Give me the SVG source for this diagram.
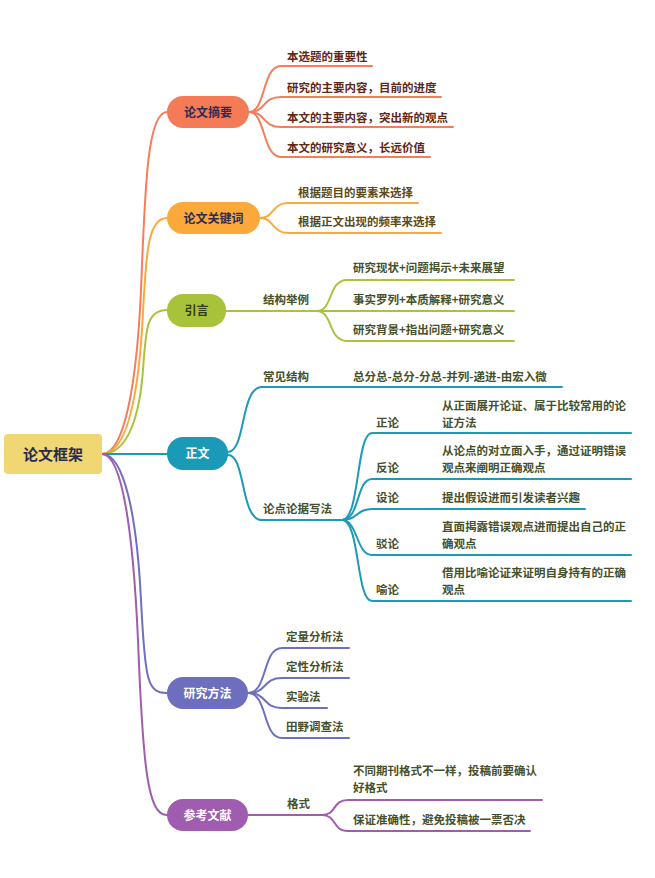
<svg xmlns="http://www.w3.org/2000/svg" width="655" height="878" viewBox="0 0 655 878">
<style>
text{font-family:"Noto Sans CJK SC","Noto Sans",sans-serif;font-weight:bold;font-size:11.5px}
.c{fill:none;stroke-width:2;stroke-linecap:round}
.t1{fill:#5e2716}
.t2{fill:#5c4a18}
.t3{fill:#46502a}
.pt{text-anchor:middle;font-size:12px}
.dark{fill:#2e2b55}
.white{fill:#ffffff}
.o{stroke:#F47E5B}.y{stroke:#F9A93E}.g{stroke:#A9C33C}.b{stroke:#1C9AB6}.p{stroke:#6E70BE}.m{stroke:#A05DAE}
</style>
<rect width="655" height="878" fill="#ffffff"/>
<g id="connectors">
<path class="c o" d="M102,454 C125,454 137,380 141,290 C145,190 147,112 167,112"/>
<path class="c y" d="M102,454 C128,454 138,390 142,330 C146,260 146,218 167,218"/>
<path class="c g" d="M102,454 C130,454 140,410 143,370 C146,330 146,310 167,310"/>
<path class="c b" d="M102,454 H167"/>
<path class="c p" d="M102,454 C125,454 137,520 141,600 C145,680 147,693 167,693"/>
<path class="c m" d="M102,454 C122,454 133,530 138,640 C143,770 148,815 167,815"/>
<path class="c o" d="M249,112 C266,112 262,66 281,66 H372"/>
<path class="c o" d="M249,112 C266,112 262,97 281,97 H441"/>
<path class="c o" d="M249,112 C266,112 262,127 281,127 H453"/>
<path class="c o" d="M249,112 C266,112 262,157 281,157 H430"/>
<path class="c y" d="M260,218 C274,218 272,203 288,203 H418"/>
<path class="c y" d="M260,218 C274,218 272,233 288,233 H441"/>
<path class="c g" d="M226,311 H317"/>
<path class="c g" d="M317,311 C333,311 328,280 347,280 H514"/>
<path class="c g" d="M317,311 H514"/>
<path class="c g" d="M317,311 C333,311 328,341 347,341 H514"/>
<path class="c b" d="M228,452 C246,452 240,387 262,387 H562"/>
<path class="c b" d="M228,455 C246,455 240,520 262,520 H342"/>
<path class="c b" d="M342,520 C360,520 356,433 372,433 H631"/>
<path class="c b" d="M342,520 C360,520 356,479 372,479 H631"/>
<path class="c b" d="M342,520 C358,520 356,509 372,509 H585"/>
<path class="c b" d="M342,520 C358,520 356,555 372,555 H631"/>
<path class="c b" d="M342,520 C360,520 356,601 372,601 H631"/>
<path class="c p" d="M248,693 C268,693 262,648 282,648 H349"/>
<path class="c p" d="M248,693 C268,693 262,678 282,678 H349"/>
<path class="c p" d="M248,693 C268,693 262,708 282,708 H327"/>
<path class="c p" d="M248,693 C268,693 262,738 282,738 H349"/>
<path class="c m" d="M248,815 H322"/>
<path class="c m" d="M322,815 C337,815 332,800 348,800 H542"/>
<path class="c m" d="M322,815 C337,815 332,831 348,831 H530"/>
</g>
<g id="root">
<rect x="4" y="434" width="98" height="40" rx="4" fill="#F0D773"/>
<text x="53" y="460" text-anchor="middle" style="font-size:15px" fill="#2b2a4c">论文框架</text>
</g>
<g id="n-zhaiyao">
<rect x="167" y="96" width="82" height="32" rx="16" fill="#F47B55"/>
<text class="pt dark" x="208" y="116.5">论文摘要</text>
</g>
<g id="n-zhaiyao-kids">
<text class="t1" x="287" y="61">本选题的重要性</text>
<text class="t1" x="287" y="92">研究的主要内容，目前的进度</text>
<text class="t1" x="287" y="122">本文的主要内容，突出新的观点</text>
<text class="t1" x="287" y="152">本文的研究意义，长远价值</text>
</g>
<g id="n-guanjianci">
<rect x="167" y="202" width="93" height="32" rx="16" fill="#FBA93A"/>
<text class="pt dark" x="213.5" y="222.5">论文关键词</text>
</g>
<g id="n-guanjianci-kids">
<text class="t2" x="298" y="196.5">根据题目的要素来选择</text>
<text class="t2" x="298" y="226">根据正文出现的频率来选择</text>
</g>
<g id="n-yinyan">
<rect x="167" y="294" width="59" height="33" rx="16" fill="#A8C33A"/>
<text class="pt" x="196.5" y="315" fill="#2f3a1c">引言</text>
</g>
<g id="n-yinyan-kids">
<text class="t3" x="263" y="303.5">结构举例</text>
<text class="t3" x="353" y="271.5">研究现状+问题揭示+未来展望</text>
<text class="t3" x="353" y="303.5">事实罗列+本质解释+研究意义</text>
<text class="t3" x="353" y="333.5">研究背景+指出问题+研究意义</text>
</g>
<g id="n-zhengwen">
<rect x="167" y="437" width="61" height="33" rx="16" fill="#1B9AB7"/>
<text class="pt white" x="197.5" y="458">正文</text>
</g>
<g id="n-zhengwen-kids">
<text class="t3" x="263" y="380.5">常见结构</text>
<text class="t3" x="353" y="380.5">总分总-总分-分总-并列-递进-由宏入微</text>
<text class="t3" x="263" y="512.5">论点论据写法</text>
<text class="t3" x="376" y="426.5">正论</text>
<text class="t3" x="442" y="409.5">从正面展开论证、属于比较常用的论</text>
<text class="t3" x="442" y="426.5">证方法</text>
<text class="t3" x="376" y="471.5">反论</text>
<text class="t3" x="442" y="455">从论点的对立面入手，通过证明错误</text>
<text class="t3" x="442" y="471.5">观点来阐明正确观点</text>
<text class="t3" x="376" y="501.5">设论</text>
<text class="t3" x="442" y="501.5">提出假设进而引发读者兴趣</text>
<text class="t3" x="376" y="547.5">驳论</text>
<text class="t3" x="442" y="531">直面揭露错误观点进而提出自己的正</text>
<text class="t3" x="442" y="547.5">确观点</text>
<text class="t3" x="376" y="593.5">喻论</text>
<text class="t3" x="442" y="577">借用比喻论证来证明自身持有的正确</text>
<text class="t3" x="442" y="593.5">观点</text>
</g>
<g id="n-fangfa">
<rect x="167" y="677" width="81" height="32" rx="16" fill="#6D6FBE"/>
<text class="pt white" x="207.5" y="697.5">研究方法</text>
</g>
<g id="n-fangfa-kids">
<text class="t3" x="286" y="640.5">定量分析法</text>
<text class="t3" x="286" y="670.5">定性分析法</text>
<text class="t3" x="286" y="700.5">实验法</text>
<text class="t3" x="286" y="730.5">田野调查法</text>
</g>
<g id="n-wenxian">
<rect x="167" y="799" width="81" height="32" rx="16" fill="#A05CAE"/>
<text class="pt white" x="207.5" y="819.5">参考文献</text>
</g>
<g id="n-wenxian-kids">
<text class="t3" x="287" y="807.5">格式</text>
<text class="t3" x="353" y="775">不同期刊格式不一样，投稿前要确认</text>
<text class="t3" x="353" y="792">好格式</text>
<text class="t3" x="353" y="823.5">保证准确性，避免投稿被一票否决</text>
</g>
</svg>
